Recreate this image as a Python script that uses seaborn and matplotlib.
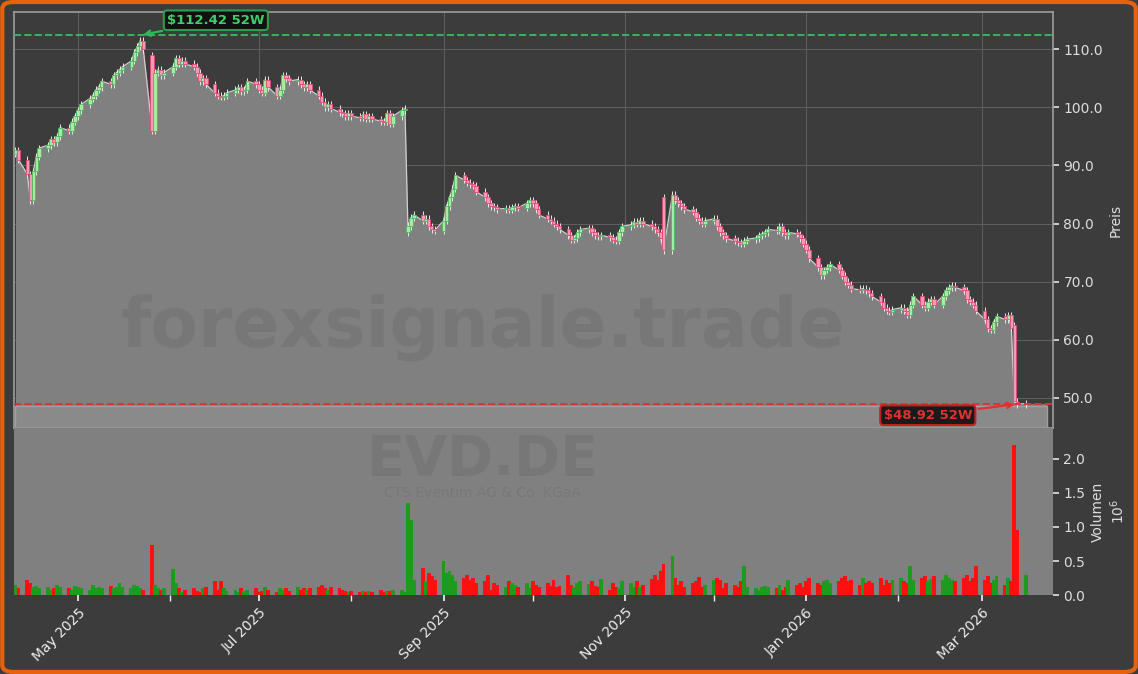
import matplotlib
matplotlib.use("Agg")
import matplotlib.pyplot as plt
import matplotlib.dates as mdates
from matplotlib.patches import FancyBboxPatch
import numpy as np
import pandas as pd
import seaborn as sns

sns.set_theme(style="dark")
plt.rcParams["font.family"] = ["DejaVu Sans"]

# ---- data ----
START = "2025-04-10"
closes = [
    92.6, 91.0, 88.5, 84.0, 89.0,  91.5, 93.0, 93.5, 94.5, 94.0,
    95.0, 96.5, 96.0, 97.5, 98.5,  99.5, 100.5, 101.5, 102.0, 103.0,
    103.5, 104.5, 104.0, 105.5, 106.0,  106.5, 107.0, 108.0, 109.5, 110.5,
    111.5, 110.0, 96.0, 106.0, 106.5,  105.5, 106.0, 107.0, 108.5, 107.5,
    108.0, 107.5, 107.0, 106.0, 104.5,  105.0, 104.0, 102.5, 102.0, 101.8,
    102.0, 102.5, 103.0, 103.5, 102.8,  103.0, 104.5, 104.0, 103.0, 102.5,
    104.8, 103.5, 102.0, 103.0, 105.5,  105.0, 104.5, 104.8, 104.0, 103.5,
    104.0, 103.0, 102.0, 101.0, 100.0,  100.5, 99.8, 99.2, 99.0, 98.5,
    99.0, 98.5, 98.2, 98.8, 98.0,  98.5, 98.0, 97.6, 97.5, 99.0,
    97.2, 98.5, 99.5, 99.8, 79.5,  81.0, 81.5, 80.5, 80.8, 79.5,
    79.0, 78.8, 80.5, 83.0, 84.5,  86.0, 88.3, 87.5, 87.0, 86.8,
    86.5, 85.5, 84.5, 83.5, 83.0,  82.8, 82.5, 82.6, 82.4, 82.8,
    83.0, 82.7, 83.5, 84.0, 83.5,  82.5, 81.5, 80.8, 80.5, 80.0,
    79.5, 79.0, 78.0, 77.2, 77.5,  78.5, 79.0, 79.2, 78.5, 78.0,
    77.8, 78.0, 77.6, 77.2, 77.0,  78.5, 79.5, 79.8, 80.3, 80.0,
    80.5, 80.0, 79.5, 79.0, 78.5,  77.5, 75.4, 85.0, 84.0, 83.5,
    83.0, 82.5, 82.0, 81.0, 80.5,  80.0, 80.5, 80.8, 79.5, 78.5,
    78.0, 77.5, 77.0, 76.8, 76.5,  77.0, 77.3, 77.5, 78.0, 78.2,
    78.5, 79.0, 78.8, 79.5, 78.5,  78.0, 78.5, 78.2, 77.5, 76.5,
    75.5, 74.0, 72.5, 71.1, 72.0,  72.5, 73.0, 72.0, 71.0, 70.0,
    69.5, 68.8, 68.6, 68.8, 68.5,  68.0, 67.5, 66.5, 65.5, 65.0,
    64.8, 65.2, 65.5, 65.0, 64.3,  66.0, 67.5, 66.0, 65.5, 66.5,
    67.0, 66.0, 67.5, 68.5, 69.0,  69.3, 69.0, 68.5, 67.0, 66.5,
    66.0, 65.0, 63.5, 62.0, 61.7,  63.0, 64.0, 63.5, 64.2, 62.0,
    49.5, 48.92, 49.0,
]
# opens that differ from the previous close (gaps)
gap_opens = {0: 92.0, 32: 109.0, 94: 78.5, 156: 84.5, 240: 62.5, 241: 49.3}
volumes = [  # millions
    0.15, 0.10, 0.22, 0.18, 0.12,  0.14, 0.10, 0.12, 0.08, 0.10,
    0.15, 0.12, 0.10, 0.08, 0.14,  0.12, 0.10, 0.08, 0.15, 0.10,
    0.12, 0.10, 0.14, 0.10, 0.12,  0.18, 0.12, 0.10, 0.15, 0.14,
    0.10, 0.08, 0.73, 0.15, 0.10,  0.08, 0.10, 0.38, 0.18, 0.10,
    0.05, 0.08, 0.10, 0.06, 0.04,  0.10, 0.12, 0.20, 0.08, 0.20,
    0.10, 0.06, 0.08, 0.05, 0.10,  0.06, 0.08, 0.10, 0.05, 0.06,
    0.12, 0.08, 0.05, 0.10, 0.08,  0.10, 0.06, 0.12, 0.08, 0.10,
    0.08, 0.10, 0.12, 0.15, 0.10,  0.08, 0.12, 0.10, 0.08, 0.06,
    0.04, 0.06, 0.05, 0.06, 0.04,  0.06, 0.05, 0.08, 0.04, 0.06,
    0.06, 0.08, 0.07, 0.05, 1.35,  1.10, 0.22, 0.40, 0.20, 0.32,
    0.28, 0.22, 0.50, 0.32, 0.35,  0.30, 0.20, 0.25, 0.30, 0.22,
    0.25, 0.18, 0.20, 0.30, 0.08,  0.18, 0.15, 0.12, 0.20, 0.18,
    0.15, 0.12, 0.18, 0.10, 0.20,  0.15, 0.12, 0.18, 0.14, 0.22,
    0.12, 0.14, 0.30, 0.15, 0.12,  0.18, 0.20, 0.16, 0.20, 0.14,
    0.12, 0.24, 0.08, 0.18, 0.12,  0.10, 0.20, 0.18, 0.12, 0.20,
    0.12, 0.15, 0.24, 0.30, 0.22,  0.35, 0.45, 0.57, 0.25, 0.15,
    0.20, 0.12, 0.18, 0.20, 0.26,  0.12, 0.15, 0.22, 0.25, 0.22,
    0.10, 0.18, 0.15, 0.12, 0.20,  0.43, 0.12, 0.10, 0.08, 0.12,
    0.14, 0.12, 0.10, 0.15, 0.08,  0.12, 0.22, 0.15, 0.18, 0.12,
    0.20, 0.25, 0.18, 0.15, 0.20,  0.22, 0.18, 0.20, 0.25, 0.28,
    0.20, 0.22, 0.15, 0.25, 0.18,  0.20, 0.18, 0.25, 0.15, 0.22,
    0.18, 0.22, 0.25, 0.20, 0.18,  0.42, 0.22, 0.25, 0.28, 0.20,
    0.24, 0.28, 0.22, 0.30, 0.25,  0.22, 0.20, 0.25, 0.30, 0.20,
    0.25, 0.42, 0.22, 0.28, 0.18,  0.22, 0.28, 0.15, 0.25, 0.20,
    2.20, 0.95, 0.30,
]
high_52w = 112.42
low_52w = 48.92
ticker = "EVD.DE"
company = "CTS Eventim AG & Co. KGaA"
watermark = "forexsignale.trade"

dates = pd.bdate_range(START, periods=len(closes))
df = pd.DataFrame({"date": dates, "close": closes, "vol": volumes})
df["open"] = df["close"].shift(1)
for i, o in gap_opens.items():
    df.loc[i, "open"] = o
df["up"] = df["close"] >= df["open"]
x = mdates.date2num(df["date"])

BG = "#3c3c3c"
FILL = "#808080"
fig = plt.figure(figsize=(11.38, 6.74), dpi=100, facecolor=BG)
ax = fig.add_axes([0.0123, 0.365, 0.9130, 0.617], facecolor=BG)
axv = fig.add_axes([0.0123, 0.117, 0.9130, 0.248], facecolor=FILL, sharex=ax)

# price area
x_end = mdates.date2num(pd.Timestamp("2026-03-23"))
xs = np.append(x, x_end)
cs = np.append(df["close"].values, closes[-1])
ax.fill_between(xs, cs, 40, color=FILL, zorder=2, lw=0)
ax.fill_between([x[0], x_end], 40, low_52w - 0.3, color="#8a8a8a", zorder=2.1,
                edgecolor="#a0a0a0", lw=1)
ax.plot(x, df["close"], color="#d0d0d0", lw=0.9, zorder=3)

# candles
hw = 0.6
for xi, o, c, up in zip(x, df["open"], df["close"], df["up"]):
    face = "#a6eaa6" if up else "#f59ab2"
    edge = "#4fb85c" if up else "#e04a78"
    ax.vlines(xi, min(o, c) - 0.6, max(o, c) + 0.6, color="#e8e8e8", lw=0.7, zorder=4)
    ax.add_patch(plt.Rectangle((xi - hw, min(o, c)), 2 * hw, max(abs(c - o), 0.2),
                               facecolor=face, edgecolor=edge, lw=0.6, zorder=5))

ax.axhline(high_52w, color="#3cb35a", ls="--", lw=1.4, zorder=6)
ax.axhline(low_52w, color="#d83838", ls="--", lw=1.4, zorder=6)
ipk = int(np.argmax(closes))
ax.annotate(f"${high_52w:.2f} 52W", xy=(x[ipk], high_52w),
            xytext=(mdates.date2num(pd.Timestamp("2025-05-31")), 115.0),
            color="#3fcf6a", fontsize=9.5, fontweight="bold", va="center", zorder=8,
            bbox=dict(boxstyle="round,pad=0.25", fc="#111111", ec="#2e9e4e", lw=1.5),
            arrowprops=dict(arrowstyle="->", color="#2fb85a", lw=1.6))
ax.annotate(f"${low_52w:.2f} 52W", xy=(x[-2], low_52w),
            xytext=(mdates.date2num(pd.Timestamp("2026-01-27")), 47.0),
            color="#e03030", fontsize=9.5, fontweight="bold", va="center", zorder=8,
            bbox=dict(boxstyle="round,pad=0.25", fc="#1a1a1a", ec="#c02020", lw=1.5),
            arrowprops=dict(arrowstyle="->", color="#e03030", lw=1.6))

ax.set_ylim(44.8, 116.4)
ax.set_xlim(mdates.date2num(pd.Timestamp("2025-04-10")) - 0.5,
            mdates.date2num(pd.Timestamp("2026-03-25")))
ax.yaxis.tick_right()
ax.yaxis.set_label_position("right")
ax.set_yticks([50, 60, 70, 80, 90, 100, 110])
ax.yaxis.set_major_formatter(matplotlib.ticker.FormatStrFormatter("%.1f"))
ax.set_ylabel("Preis", color="#dddddd", fontsize=10)
ax.grid(True, color="#5e5e5e", lw=0.8, zorder=1)
ax.set_axisbelow(True)
ax.tick_params(axis="x", labelbottom=False, length=0)
ax.tick_params(axis="y", colors="#dddddd", length=4, direction="out", right=True, labelsize=10)
for s in ax.spines.values():
    s.set_color("#9a9a9a")

# volume
colors = np.where(df["up"], "#1e9a1e", "#ff1010")
axv.bar(x, df["vol"], width=1.3, color=colors, lw=0, zorder=3)
axv.set_ylim(0, 2.45)
axv.yaxis.tick_right()
axv.yaxis.set_label_position("right")
axv.set_yticks([0, 0.5, 1.0, 1.5, 2.0])
axv.yaxis.set_major_formatter(matplotlib.ticker.FormatStrFormatter("%.1f"))
axv.set_ylabel("Volumen\n$10^6$", color="#dddddd", fontsize=10)
axv.grid(False)
axv.xaxis.set_major_locator(mdates.MonthLocator(bymonth=[1, 3, 5, 7, 9, 11]))
axv.xaxis.set_minor_locator(mdates.MonthLocator())
axv.xaxis.set_major_formatter(mdates.DateFormatter("%b %Y"))
axv.tick_params(axis="x", which="both", colors="#eeeeee", length=4, bottom=True,
                direction="out", labelsize=10)
axv.tick_params(axis="y", colors="#dddddd", length=4, right=True, labelsize=10)
for lbl in axv.get_xticklabels():
    lbl.set_rotation(45)
    lbl.set_ha("right")
    lbl.set_rotation_mode("anchor")
for s in axv.spines.values():
    s.set_visible(False)

# watermarks
fig.text(0.424, 0.515, watermark, fontsize=50, fontweight="bold", color="#6e6e6e",
         alpha=0.45, ha="center", va="center", zorder=10)
fig.text(0.424, 0.318, ticker, fontsize=40, fontweight="bold", color="#6e6e6e",
         alpha=0.45, ha="center", va="center", zorder=10)
fig.text(0.424, 0.268, company, fontsize=10, color="#6e6e6e",
         alpha=0.45, ha="center", va="center", zorder=10)

# orange frame
fig.patches.append(FancyBboxPatch((0.002, 0.003), 0.996, 0.994,
                                  boxstyle="round,pad=0,rounding_size=0.01",
                                  transform=fig.transFigure, fill=False,
                                  ec="#e8620e", lw=3))

fig.savefig("out.png", dpi=100, facecolor=BG)
